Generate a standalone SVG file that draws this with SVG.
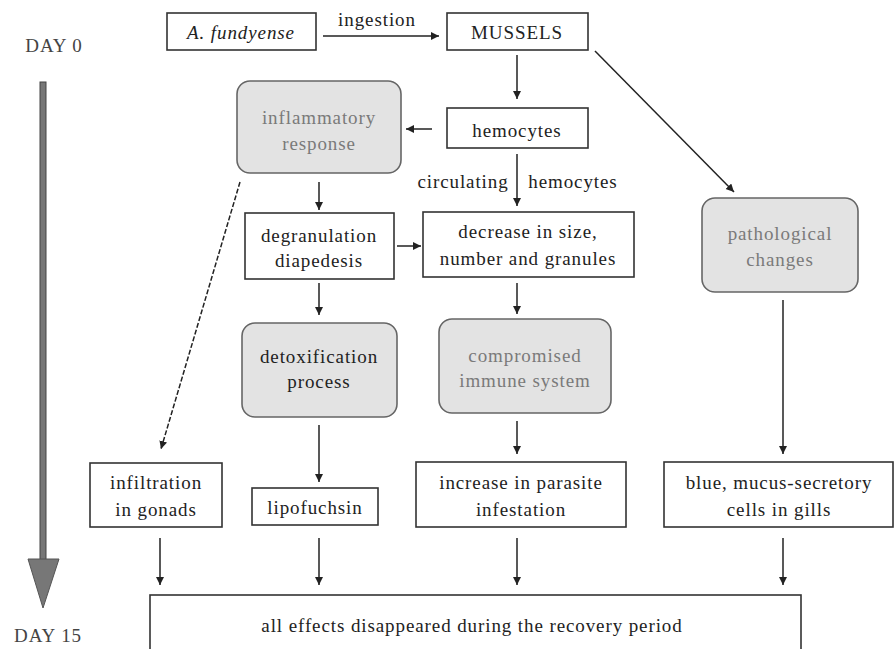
<svg xmlns="http://www.w3.org/2000/svg" width="895" height="649" viewBox="0 0 895 649">
<style>
text{font-family:"Liberation Serif","Times New Roman",serif;font-size:19px;letter-spacing:0.9px;fill:#222;text-anchor:middle}
.box{fill:#fff;stroke:#333;stroke-width:1.6}
.rbox{fill:#e3e3e3;stroke:#666;stroke-width:1.6}
.gt{fill:#7a7a7a}
.c{stroke:#222;stroke-width:1.5;fill:none}
.d{stroke-dasharray:5,2}
</style>
<defs>
<marker id="ah" markerUnits="userSpaceOnUse" markerWidth="10" markerHeight="10" refX="8" refY="4" orient="auto">
<path d="M0,0 L8,4 L0,8 Z" fill="#222"/>
</marker>
</defs>
<rect width="895" height="649" fill="#fff"/>

<g id="timeline">
<text x="54" y="52" style="fill:#444">DAY 0</text>
<rect x="40" y="82" width="6" height="478" fill="#777" stroke="#444" stroke-width="1"/>
<path d="M28,559 L59,559 L43,608 Z" fill="#777" stroke="#555" stroke-width="1"/>
<text x="48" y="642" style="fill:#444">DAY 15</text>
</g>

<g id="connectors">
<line class="c" x1="323" y1="36" x2="439" y2="36" marker-end="url(#ah)"/>
<text x="377" y="26">ingestion</text>
<line class="c" x1="517" y1="55" x2="517" y2="99" marker-end="url(#ah)"/>
<line class="c" x1="432" y1="129" x2="406" y2="129" marker-end="url(#ah)"/>
<line class="c" x1="517" y1="154" x2="517" y2="206" marker-end="url(#ah)"/>
<text x="463" y="188">circulating</text>
<text x="573" y="188">hemocytes</text>
<line class="c" x1="595" y1="51" x2="734" y2="192" marker-end="url(#ah)"/>
<line class="c" x1="319" y1="182" x2="319" y2="210" marker-end="url(#ah)"/>
<line class="c" x1="397" y1="246" x2="421" y2="246" marker-end="url(#ah)"/>
<line class="c" x1="319" y1="283" x2="319" y2="315" marker-end="url(#ah)"/>
<line class="c" x1="517" y1="283" x2="517" y2="314" marker-end="url(#ah)"/>
<line class="c d" x1="240" y1="182" x2="161" y2="449" marker-end="url(#ah)"/>
<line class="c" x1="783" y1="300" x2="783" y2="454" marker-end="url(#ah)"/>
<line class="c" x1="319" y1="425" x2="319" y2="482" marker-end="url(#ah)"/>
<line class="c" x1="517" y1="421" x2="517" y2="454" marker-end="url(#ah)"/>
<line class="c" x1="160" y1="538" x2="160" y2="585" marker-end="url(#ah)"/>
<line class="c" x1="319" y1="538" x2="319" y2="585" marker-end="url(#ah)"/>
<line class="c" x1="517" y1="538" x2="517" y2="585" marker-end="url(#ah)"/>
<line class="c" x1="783" y1="538" x2="783" y2="585" marker-end="url(#ah)"/>
</g>

<g id="fundyense">
<rect class="box" x="167" y="13" width="149" height="37"/>
<text x="241" y="39" style="font-style:italic">A. fundyense</text>
</g>
<g id="mussels">
<rect class="box" x="447" y="13" width="141" height="37"/>
<text x="517" y="39">MUSSELS</text>
</g>
<g id="hemocytes">
<rect class="box" x="447" y="108" width="141" height="40"/>
<text x="517" y="137">hemocytes</text>
</g>
<g id="inflammatory">
<rect class="rbox" x="237" y="81" width="164" height="92" rx="13"/>
<text class="gt" x="319" y="124">inflammatory</text>
<text class="gt" x="319" y="150">response</text>
</g>
<g id="degranulation">
<rect class="box" x="245" y="213" width="149" height="66"/>
<text x="319" y="242">degranulation</text>
<text x="319" y="267">diapedesis</text>
</g>
<g id="decrease">
<rect class="box" x="423" y="212" width="211" height="65"/>
<text x="528" y="238">decrease in size,</text>
<text x="528" y="265">number and granules</text>
</g>
<g id="pathological">
<rect class="rbox" x="702" y="198" width="156" height="94" rx="13"/>
<text class="gt" x="780" y="240">pathological</text>
<text class="gt" x="780" y="266">changes</text>
</g>
<g id="detoxification">
<rect class="rbox" x="242" y="323" width="155" height="94" rx="13"/>
<text x="319" y="363">detoxification</text>
<text x="319" y="388">process</text>
</g>
<g id="compromised">
<rect class="rbox" x="439" y="319" width="172" height="94" rx="13"/>
<text class="gt" x="525" y="362">compromised</text>
<text class="gt" x="525" y="387">immune system</text>
</g>
<g id="infiltration">
<rect class="box" x="90" y="463" width="132" height="64"/>
<text x="156" y="489">infiltration</text>
<text x="156" y="516">in gonads</text>
</g>
<g id="lipofuchsin">
<rect class="box" x="252" y="488" width="126" height="37"/>
<text x="315" y="514">lipofuchsin</text>
</g>
<g id="parasite">
<rect class="box" x="416" y="462" width="210" height="65"/>
<text x="521" y="489">increase in parasite</text>
<text x="521" y="516">infestation</text>
</g>
<g id="gills">
<rect class="box" x="664" y="462" width="229" height="65"/>
<text x="779" y="489">blue, mucus-secretory</text>
<text x="779" y="516">cells in gills</text>
</g>
<g id="recovery">
<rect class="box" x="150" y="595" width="651" height="60"/>
<text x="472" y="632">all effects disappeared during the recovery period</text>
</g>
</svg>
